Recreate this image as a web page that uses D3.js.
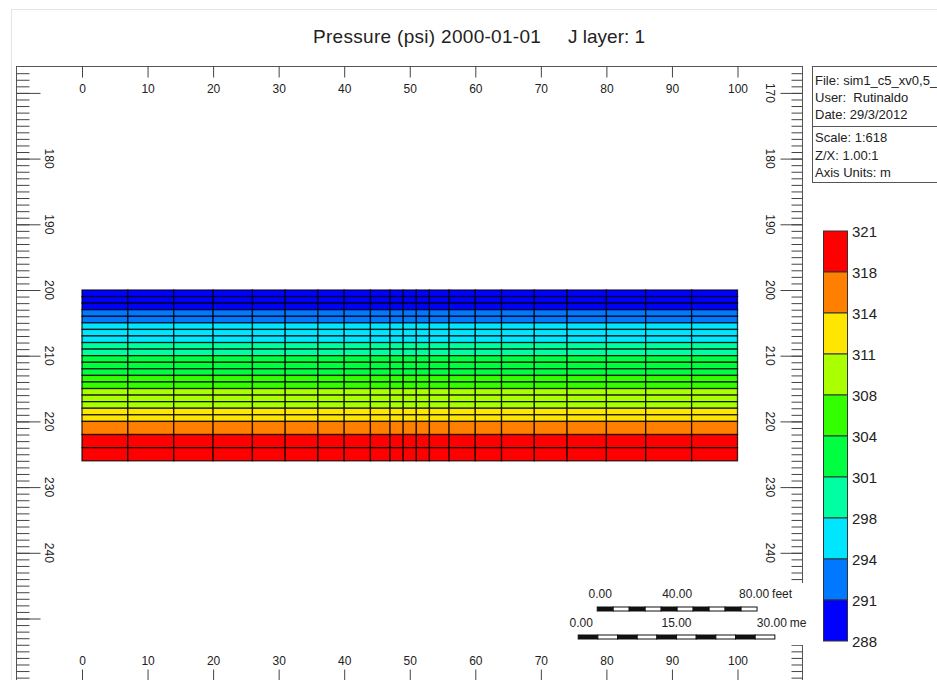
<!DOCTYPE html>
<html>
<head>
<meta charset="utf-8">
<script src="https://cdn.jsdelivr.net/npm/d3@7"></script>
<style>
  body { margin: 0; background: #fff; }
  text { font-family: "Liberation Sans", Arial, sans-serif; fill: #222; }
</style>
</head>
<body>
<script>
// grid column edges (m along x) and layer edges (m depth)
const colEdges = [0, 7, 14, 20, 26, 31, 36, 40, 44, 47, 49, 51, 53, 56, 60, 64, 69, 74, 80, 86, 93, 100]
const layerEdges = [200, 201, 202, 203, 204, 205, 206, 207, 208, 209, 210, 211, 212, 213, 214, 215, 216, 217, 218, 219, 220, 222, 224, 226]
// pressure (psi) per layer, top to bottom
const layerPressure = [288.6, 289.9, 290.8, 292.1, 293.4, 294.7, 296.0, 297.3, 298.6, 299.9, 301.2, 302.5, 303.8, 305.1, 306.4, 308.4, 309.6, 310.8, 312.1, 313.4, 316.2, 319.0, 320.3]

// colour legend
const legendBreaks = [291, 294, 298, 301, 304, 308, 311, 314, 318]
const legendColors = ['#0000ff', '#0078ff', '#00e6ff', '#00ffa0', '#00ff40', '#33ff00', '#aaff00', '#ffe600', '#ff8000', '#ff0000']
const legendLabels = ['321', '318', '314', '311', '308', '304', '301', '298', '294', '291', '288']

// axes
const xTicks = [0, 10, 20, 30, 40, 50, 60, 70, 80, 90, 100]
const zMajor = [170, 180, 190, 200, 210, 220, 230, 240, 250]
const zLabelsLeft = [180, 190, 200, 210, 220, 230, 240]
const zLabelsRight = [170, 180, 190, 200, 210, 220, 230, 240]

const infoTop = ['File: sim1_c5_xv0,5_', 'User:  Rutinaldo', 'Date: 29/3/2012']
const infoBottom = ['Scale: 1:618', 'Z/X: 1.00:1', 'Axis Units: m']

// scale bars: start (m), length in own unit, metres per unit, labels
const feetBar = { start: 78.6, length: 80, perUnit: 0.3048, labels: ['0.00', '40.00', '80.00'], unit: 'feet' }
const metreBar = { start: 75.7, length: 30, perUnit: 1, labels: ['0.00', '15.00', '30.00'], unit: 'me' }

const w = 937
const h = 680

const svg = d3.select('body').append('svg')
    .attr('width', w)
    .attr('height', h)

const x = d3.scaleLinear().domain([0, 100]).range([82, 737.5])
const y = d3.scaleLinear().domain([200, 240]).range([290, 552.8])
const color = d3.scaleThreshold().domain(legendBreaks).range(legendColors)

// faint outer border of the window
svg.append('rect')
    .attr('x', 11.5).attr('y', 9.5)
    .attr('width', w).attr('height', h)
    .attr('fill', 'none').attr('stroke', '#e4e4e4')

// title
svg.append('text').attr('x', 313).attr('y', 43).attr('font-size', 19).attr('letter-spacing', 0.3).text('Pressure (psi) 2000-01-01')
svg.append('text').attr('x', 568).attr('y', 43).attr('font-size', 19).text('J layer: 1')

// grid cells
const cells = []
layerPressure.forEach((p, r) => {
    for (let c = 0; c < colEdges.length - 1; c++) {
        cells.push({ x0: colEdges[c], x1: colEdges[c + 1], z0: layerEdges[r], z1: layerEdges[r + 1], p: p })
    }
})
svg.append('g').selectAll('rect')
    .data(cells)
    .enter()
    .append('rect')
    .attr('x', d => x(d.x0))
    .attr('y', d => y(d.z0))
    .attr('width', d => x(d.x1) - x(d.x0))
    .attr('height', d => y(d.z1) - y(d.z0))
    .attr('fill', d => color(d.p))
    .attr('stroke', '#000')
    .attr('stroke-opacity', 0.8)
    .attr('stroke-width', 1.3)

// frame
const frameL = 16.5, frameR = 802.5, frameT = 66.5, frameB = 681.5
svg.append('rect')
    .attr('x', frameL).attr('y', frameT)
    .attr('width', frameR - frameL).attr('height', frameB - frameT)
    .attr('fill', 'none').attr('stroke', '#555')

const minorZ = d3.range(167, 262)

function styleAxis(g) {
    g.select('.domain').remove()
    g.selectAll('line').attr('stroke', '#444')
    g.selectAll('text').attr('font-size', 12).attr('fill', '#222')
        .attr('font-family', '"Liberation Sans", Arial, sans-serif')
}

// left ruler
svg.append('g').attr('transform', `translate(${frameL},0)`)
    .call(d3.axisRight(y).tickValues(minorZ).tickSize(13).tickFormat(''))
    .call(styleAxis)
svg.append('g').attr('transform', `translate(${frameL},0)`)
    .call(d3.axisRight(y).tickValues(zMajor).tickSize(24).tickFormat(''))
    .call(styleAxis)
svg.append('g').selectAll('text')
    .data(zLabelsLeft)
    .enter()
    .append('text')
    .attr('transform', d => `translate(49,${y(d)}) rotate(90)`)
    .attr('text-anchor', 'middle')
    .attr('dominant-baseline', 'central')
    .attr('font-size', 12)
    .text(d => d)

// right ruler
svg.append('g').attr('transform', `translate(${frameR},0)`)
    .call(d3.axisLeft(y).tickValues(minorZ).tickSize(11).tickFormat(''))
    .call(styleAxis)
svg.append('g').attr('transform', `translate(${frameR},0)`)
    .call(d3.axisLeft(y).tickValues(zMajor).tickSize(22).tickFormat(''))
    .call(styleAxis)
svg.append('g').selectAll('text')
    .data(zLabelsRight)
    .enter()
    .append('text')
    .attr('transform', d => `translate(770,${y(d)}) rotate(90)`)
    .attr('text-anchor', 'middle')
    .attr('dominant-baseline', 'central')
    .attr('font-size', 12)
    .text(d => d)

// top and bottom axes
svg.append('g').attr('transform', `translate(0,${frameT})`)
    .call(d3.axisBottom(x).tickValues(xTicks).tickSize(11).tickPadding(7))
    .call(styleAxis)
svg.append('g').attr('transform', `translate(0,${frameB})`)
    .call(d3.axisTop(x).tickValues(xTicks).tickSize(12).tickPadding(5))
    .call(styleAxis)

// scale bar box (hides the ruler behind it)
svg.append('rect')
    .attr('x', 556).attr('y', 583)
    .attr('width', 252).attr('height', 62)
    .attr('fill', '#fff')

function drawBar(bar, barY, textY) {
    const x0 = x(bar.start)
    const x1 = x(bar.start + bar.length * bar.perUnit)
    const seg = (x1 - x0) / 10
    const g = svg.append('g')
    g.selectAll('rect.seg')
        .data(d3.range(10))
        .enter()
        .append('rect')
        .attr('x', i => x0 + i * seg)
        .attr('y', barY)
        .attr('width', seg)
        .attr('height', 4)
        .attr('fill', i => i % 2 === 0 ? '#111' : '#fff')
        .attr('stroke', '#111')
        .attr('stroke-width', 1)
    const pos = [x0 + 3, (x0 + x1) / 2, x1 - 3]
    bar.labels.forEach((t, i) => {
        g.append('text')
            .attr('x', pos[i])
            .attr('y', textY)
            .attr('text-anchor', 'middle')
            .attr('font-size', 12)
            .text(t)
    })
    g.append('text')
        .attr('x', x1 + 15)
        .attr('y', textY)
        .attr('font-size', 12)
        .text(bar.unit)
}
drawBar(feetBar, 607, 598)
drawBar(metreBar, 635, 627)

// info box
svg.append('rect')
    .attr('x', 812.5).attr('y', 66.5)
    .attr('width', 160).attr('height', 116)
    .attr('fill', '#fff').attr('stroke', '#555')
svg.append('line')
    .attr('x1', 812.5).attr('x2', 940)
    .attr('y1', 126.5).attr('y2', 126.5)
    .attr('stroke', '#555')
svg.append('g').selectAll('text')
    .data(infoTop.concat(infoBottom))
    .enter()
    .append('text')
    .attr('x', 815)
    .attr('y', (d, i) => [85, 102, 118.5, 141.5, 159.5, 176.5][i])
    .attr('font-size', 13)
    .style('white-space', 'pre')
    .text(d => d)

// colour legend
const ly = d3.scalePoint().domain(legendLabels).range([231, 641])
const binColors = legendColors.slice().reverse()
svg.append('g').selectAll('rect')
    .data(binColors)
    .enter()
    .append('rect')
    .attr('x', 823.5)
    .attr('y', (d, i) => ly(legendLabels[i]))
    .attr('width', 24)
    .attr('height', (d, i) => ly(legendLabels[i + 1]) - ly(legendLabels[i]))
    .attr('fill', d => d)
    .attr('stroke', '#333')
svg.append('g').selectAll('text')
    .data(legendLabels)
    .enter()
    .append('text')
    .attr('x', 852)
    .attr('y', d => ly(d))
    .attr('dominant-baseline', 'central')
    .attr('font-size', 15)
    .text(d => d)
</script>
</body>
</html>
